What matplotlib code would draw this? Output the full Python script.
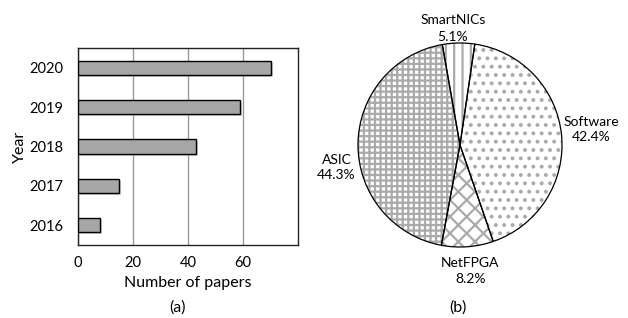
import matplotlib.pyplot as plt
import matplotlib.patheffects as pe

plt.rcParams["font.family"] = ["Lato", "DejaVu Sans"]
plt.rcParams["hatch.linewidth"] = 1.6

# (a) papers per year
years = ["2016", "2017", "2018", "2019", "2020"]
papers = [8, 15, 43, 59, 70]

# (b) platform share
platforms = ["SmartNICs", "Software", "NetFPGA", "ASIC"]
shares = [5.1, 42.4, 8.2, 44.3]
hatches = ["||", "..", "xx", "+++"]

W, H = 628, 318
fig = plt.figure(figsize=(W / 100, H / 100), dpi=100)


def px_box(left, top, right, bottom):
    return [left / W, 1 - bottom / H, (right - left) / W, (bottom - top) / H]


# ---- bar chart ----
ax = fig.add_axes(px_box(78, 48, 298, 245))
bars = ax.barh(years, papers, height=0.36, color="#a6a6a6", edgecolor="black",
               linewidth=1, zorder=3)
for b in bars:
    b.set_path_effects([pe.SimplePatchShadow(offset=(1.5, -1.5), shadow_rgbFace="#b0b0b0", alpha=0.6),
                        pe.Normal()])
ax.set_xlim(0, 80)
ax.set_ylim(-0.5, 4.5)
ax.set_xticks([0, 20, 40, 60])
ax.xaxis.grid(True, color="#9a9a9a", linewidth=1, zorder=0)
ax.tick_params(length=0, labelsize=10.5)
ax.tick_params(axis="x", pad=8)
ax.tick_params(axis="y", pad=10.5)
for s in ax.spines.values():
    s.set_linewidth(1)
    s.set_color("#222222")
fig.text(20 / W, 1 - 147 / H, "Year", rotation=90, ha="center", va="center", fontsize=11.5)
fig.text(188 / W, 1 - 283 / H, "Number of papers", ha="center", va="center", fontsize=11.5)
fig.text(178 / W, 1 - 308 / H, "(a)", ha="center", va="center", fontsize=11.5)

# ---- pie chart ----
r = 102
cx, cy = 460, 145
pax = fig.add_axes(px_box(cx - r, cy - r, cx + r, cy + r))
wedges, _ = pax.pie(shares, startangle=100, counterclock=False, radius=1,
                    wedgeprops=dict(facecolor="white", edgecolor="#aaaaaa", linewidth=0))
for w, h in zip(wedges, hatches):
    w.set_hatch(h)
pax.pie(shares, startangle=100, counterclock=False, radius=1,
        wedgeprops=dict(fill=False, edgecolor="black", linewidth=0.9))
pax.set_xlim(-1, 1)
pax.set_ylim(-1, 1)
pax.set_aspect("equal")
pax.axis("off")

label_pos = {
    "SmartNICs": (-0.07, 1.23, 1.06),
    "Software": (1.29, 0.23, 0.08),
    "NetFPGA": (0.10, -1.16, -1.31),
    "ASIC": (-1.21, -0.15, -0.29),
}
for name, val in zip(platforms, shares):
    x, y1, y2 = label_pos[name]
    pax.text(x, y1, name, ha="center", va="center", fontsize=10, clip_on=False)
    pax.text(x, y2, f"{val}%", ha="center", va="center", fontsize=10, clip_on=False)

fig.text(458 / W, 1 - 308 / H, "(b)", ha="center", va="center", fontsize=11.5)

fig.savefig("out.png", dpi=100)
